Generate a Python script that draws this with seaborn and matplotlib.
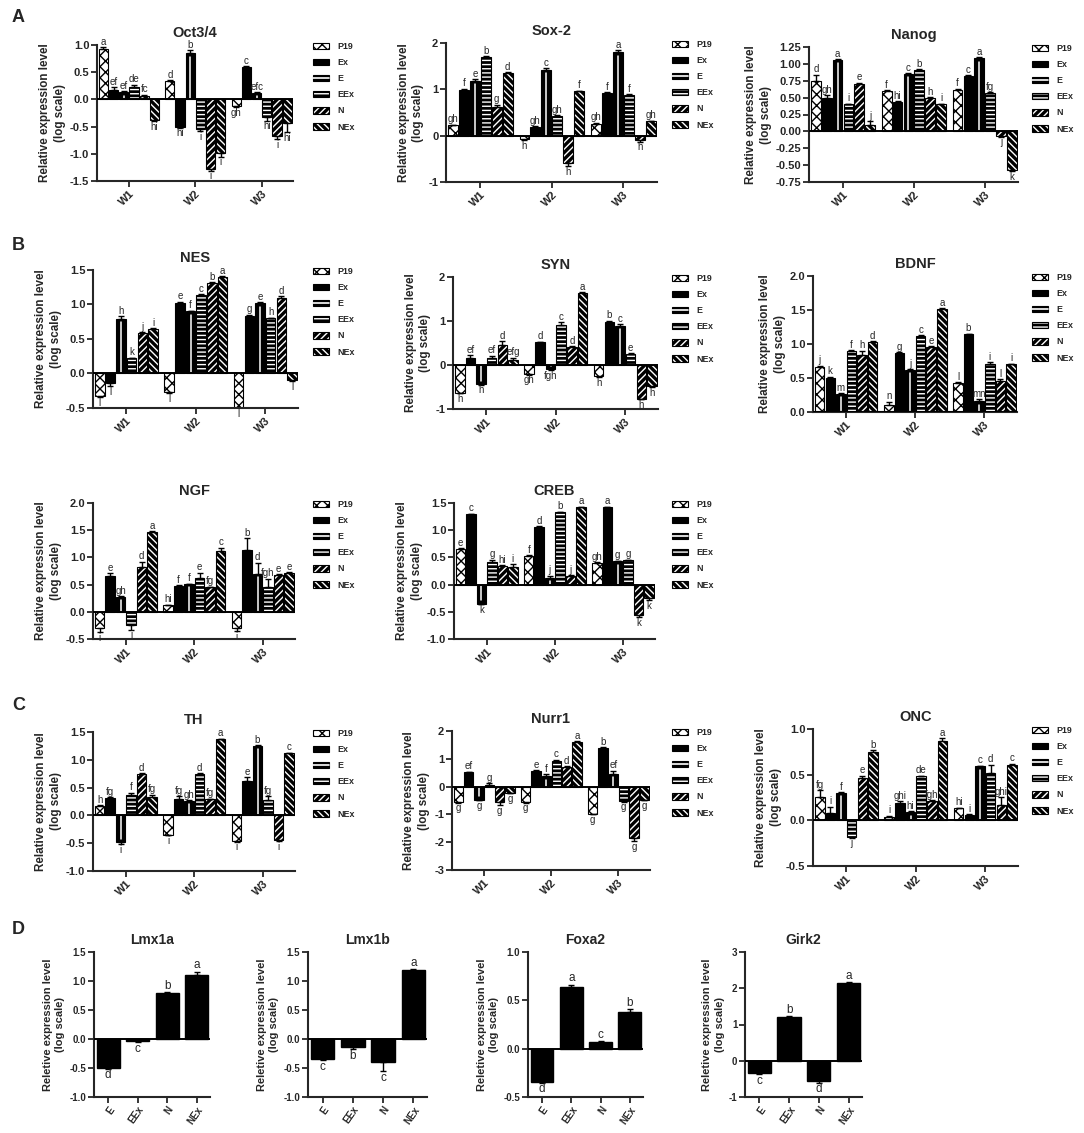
import matplotlib
matplotlib.use("Agg")
import matplotlib.pyplot as plt
import seaborn as sns
import numpy as np
import pandas as pd
from matplotlib.patches import Patch
from matplotlib.lines import Line2D
from matplotlib.colors import to_rgba
from matplotlib import font_manager

weeks = ["W1", "W2", "W3"]
groups = ["P19", "Ex", "E", "EEx", "N", "NEx"]
d_groups = ["E", "EEx", "N", "NEx"]

# rows = W1, W2, W3 ; columns = P19, Ex, E, EEx, N, NEx
oct_vals = [[0.92, 0.18, 0.13, 0.22, 0.07, -0.38],
            [0.33, -0.50, 0.85, -0.55, -1.28, -0.99],
            [-0.12, 0.60, 0.12, -0.33, -0.68, -0.44]]
oct_err = [[0.04, 0.04, 0.02, 0.05, 0.02, 0.02],
           [0.02, 0.02, 0.05, 0.03, 0.03, 0.06],
           [0.02, 0.01, 0.01, 0.06, 0.05, 0.16]]
oct_lab = [["a", "ef", "ef", "de", "fc", "hi"],
           ["d", "hi", "b", "i", "i", "i"],
           ["gh", "c", "efc", "hi", "i", "hi"]]

sox_vals = [[0.22, 0.98, 1.18, 1.70, 0.62, 1.36],
            [-0.08, 0.18, 1.42, 0.43, -0.60, 0.96],
            [0.25, 0.93, 1.80, 0.88, -0.10, 0.31]]
sox_err = [[0.02, 0.03, 0.04, 0.01, 0.05, 0.01],
           [0.01, 0.03, 0.03, 0.01, 0.06, 0.01],
           [0.03, 0.01, 0.04, 0.01, 0.03, 0.01]]
sox_lab = [["gh", "f", "e", "b", "g", "d"],
           ["h", "gh", "c", "gh", "h", "f"],
           ["gh", "f", "a", "f", "h", "gh"]]

nanog_vals = [[0.75, 0.50, 1.06, 0.40, 0.70, 0.10],
              [0.60, 0.44, 0.85, 0.91, 0.50, 0.40],
              [0.62, 0.82, 1.08, 0.57, -0.07, -0.57]]
nanog_err = [[0.09, 0.04, 0.01, 0.01, 0.02, 0.05],
             [0.01, 0.01, 0.01, 0.01, 0.01, 0.01],
             [0.01, 0.01, 0.02, 0.01, 0.01, 0.02]]
nanog_lab = [["d", "gh", "a", "i", "e", "j"],
             ["f", "hi", "c", "b", "h", "i"],
             ["f", "c", "a", "fg", "j", "k"]]

nes_vals = [[-0.33, -0.14, 0.79, 0.22, 0.59, 0.65],
            [-0.27, 1.02, 0.90, 1.14, 1.31, 1.40],
            [-0.50, 0.84, 1.02, 0.80, 1.10, -0.10]]
nes_err = [[0.01, 0.04, 0.04, 0.01, 0.01, 0.01],
           [0.01, 0.02, 0.01, 0.01, 0.01, 0.01],
           [0.00, 0.01, 0.01, 0.01, 0.02, 0.01]]
nes_lab = [["l", "l", "h", "k", "j", "i"],
           ["l", "e", "f", "c", "b", "a"],
           ["l", "g", "e", "h", "d", "l"]]

syn_vals = [[-0.63, 0.15, -0.43, 0.15, 0.45, 0.12],
            [-0.20, 0.52, -0.10, 0.91, 0.42, 1.64],
            [-0.25, 0.98, 0.89, 0.25, -0.77, -0.48]]
syn_err = [[0.01, 0.07, 0.02, 0.06, 0.09, 0.05],
           [0.02, 0.01, 0.01, 0.06, 0.01, 0.01],
           [0.02, 0.03, 0.04, 0.02, 0.01, 0.03]]
syn_lab = [["h", "ef", "h", "ef", "d", "efg"],
           ["gh", "d", "fgh", "c", "d", "a"],
           ["h", "b", "c", "e", "h", "h"]]

bdnf_vals = [[0.66, 0.50, 0.27, 0.90, 0.84, 1.03],
             [0.10, 0.87, 0.62, 1.12, 0.96, 1.52],
             [0.43, 1.14, 0.16, 0.71, 0.45, 0.70]]
bdnf_err = [[0.02, 0.02, 0.01, 0.01, 0.06, 0.01],
            [0.05, 0.01, 0.01, 0.01, 0.01, 0.01],
            [0.01, 0.01, 0.03, 0.02, 0.03, 0.01]]
bdnf_lab = [["j", "k", "m", "f", "h", "d"],
            ["n", "g", "j", "c", "e", "a"],
            ["l", "b", "mn", "i", "l", "i"]]

ngf_vals = [[-0.30, 0.66, 0.28, -0.25, 0.83, 1.47],
            [0.12, 0.48, 0.51, 0.63, 0.45, 1.12],
            [-0.30, 1.14, 0.70, 0.45, 0.67, 0.72]]
ngf_err = [[0.08, 0.05, 0.01, 0.08, 0.09, 0.01],
           [0.01, 0.01, 0.01, 0.09, 0.01, 0.06],
           [0.05, 0.21, 0.20, 0.16, 0.02, 0.01]]
ngf_lab = [["i", "e", "gh", "i", "d", "a"],
           ["hi", "f", "f", "e", "fg", "c"],
           ["i", "b", "d", "fgh", "e", "e"]]

creb_vals = [[0.66, 1.29, -0.35, 0.41, 0.35, 0.32],
             [0.52, 1.06, 0.12, 1.33, 0.16, 1.42],
             [0.40, 1.42, 0.43, 0.45, -0.55, -0.25]]
creb_err = [[0.01, 0.01, 0.01, 0.05, 0.01, 0.05],
            [0.02, 0.01, 0.04, 0.01, 0.01, 0.01],
            [0.01, 0.01, 0.01, 0.01, 0.05, 0.03]]
creb_lab = [["e", "c", "k", "g", "hi", "i"],
            ["f", "d", "j", "b", "j", "a"],
            ["gh", "a", "g", "g", "k", "k"]]

th_vals = [[0.17, 0.32, -0.48, 0.36, 0.75, 0.33],
           [-0.35, 0.30, 0.26, 0.75, 0.29, 1.37],
           [-0.46, 0.62, 1.25, 0.28, -0.45, 1.12]]
th_err = [[0.01, 0.01, 0.04, 0.05, 0.01, 0.04],
          [0.01, 0.04, 0.01, 0.01, 0.01, 0.01],
          [0.01, 0.07, 0.01, 0.07, 0.01, 0.01]]
th_lab = [["h", "fg", "i", "f", "d", "fg"],
          ["i", "fg", "gh", "d", "fg", "a"],
          ["i", "e", "b", "fg", "i", "c"]]

nurr_vals = [[-0.57, 0.53, -0.48, 0.05, -0.55, -0.22],
             [-0.57, 0.57, 0.38, 0.92, 0.72, 1.60],
             [-0.98, 1.40, 0.47, -0.53, -1.85, -0.48]]
nurr_err = [[0.01, 0.01, 0.01, 0.07, 0.12, 0.01],
            [0.01, 0.01, 0.06, 0.05, 0.01, 0.03],
            [0.01, 0.01, 0.10, 0.01, 0.10, 0.01]]
nurr_lab = [["g", "ef", "g", "g", "g", "g"],
            ["g", "e", "f", "c", "d", "a"],
            ["g", "b", "ef", "g", "g", "g"]]

onc_vals = [[0.25, 0.08, 0.30, -0.18, 0.46, 0.75],
            [0.04, 0.19, 0.09, 0.48, 0.21, 0.87],
            [0.13, 0.06, 0.59, 0.52, 0.17, 0.61]]
onc_err = [[0.08, 0.07, 0.01, 0.01, 0.03, 0.02],
           [0.01, 0.02, 0.01, 0.01, 0.01, 0.03],
           [0.01, 0.01, 0.01, 0.09, 0.08, 0.01]]
onc_lab = [["fg", "i", "f", "j", "e", "b"],
           ["i", "ghi", "hi", "de", "fgh", "a"],
           ["hi", "i", "c", "d", "ghi", "c"]]

lmx1a_vals = [-0.50, -0.03, 0.80, 1.10]
lmx1a_err = [0.01, 0.03, 0.01, 0.06]
lmx1a_lab = ["d", "c", "b", "a"]
lmx1b_vals = [-0.35, -0.13, -0.40, 1.19]
lmx1b_err = [0.01, 0.04, 0.15, 0.01]
lmx1b_lab = ["c", "b", "c", "a"]
foxa2_vals = [-0.34, 0.64, 0.07, 0.38]
foxa2_err = [0.01, 0.02, 0.01, 0.03]
foxa2_lab = ["d", "a", "c", "b"]
girk2_vals = [-0.35, 1.20, -0.55, 2.15]
girk2_err = [0.02, 0.03, 0.05, 0.01]
girk2_lab = ["c", "b", "d", "a"]

sns.set_style("ticks")
plt.rcParams["font.family"] = ["Liberation Sans", "DejaVu Sans"]
plt.rcParams["hatch.linewidth"] = 1.0
names = {f.name for f in font_manager.fontManager.ttflist}
narrow = "Liberation Sans Narrow" if "Liberation Sans Narrow" in names else "Liberation Sans"

bar_face = {"P19": "white", "Ex": "black", "E": "black", "EEx": "black", "N": "black", "NEx": "black"}
bar_hatch = {"P19": "xxx", "Ex": "", "E": "", "EEx": "----", "N": "/////", "NEx": "\\\\\\\\\\"}
hatch_col = {"P19": "black", "Ex": "black", "E": "white", "EEx": "white", "N": "white", "NEx": "white"}

W, H = 1084, 1133
fig = plt.figure(figsize=(W / 100, H / 100), dpi=100)


def rect(l, r, t, b):
    return [l / W, 1 - b / H, (r - l) / W, (b - t) / H]


def style_bar(bar, g):
    bar.set_facecolor(bar_face[g])
    bar.set_edgecolor("black")
    bar.set_linewidth(0.8)
    if bar_hatch[g]:
        bar.set_hatch(bar_hatch[g])
        bar._hatch_color = to_rgba(hatch_col[g])


def legend_handles():
    hs = []
    for g in groups:
        p = Patch(facecolor=bar_face[g], edgecolor="black", linewidth=0.8,
                  hatch=bar_hatch[g] or None)
        p._hatch_color = to_rgba(hatch_col[g])
        if g == "E":
            hs.append((p, Line2D([], [], color="white", lw=1.2)))
        else:
            hs.append(p)
    return hs


def finish_axes(ax, title, lo, hi, step, fmt, tick_font, title_font, ylab, ylab_size):
    ticks = np.round(np.arange(lo, hi + step / 2, step), 2) + 0.0
    ax.set_ylim(lo, hi)
    ax.set_yticks(ticks)
    ax.set_yticklabels([fmt.format(t) for t in ticks], fontsize=tick_font["size"],
                       fontweight="bold", family=tick_font["family"])
    for s in ["top", "right"]:
        ax.spines[s].set_visible(False)
    for s in ["left", "bottom"]:
        ax.spines[s].set_linewidth(1.5)
    ax.tick_params(direction="out", length=4, width=1.3, pad=1.5)
    ax.axhline(0, color="black", lw=1.4, zorder=3)
    ax.set_title(title, fontsize=title_font["size"], fontweight="bold",
                 family=title_font["family"], pad=6)
    ax.set_xlabel("")
    ax.set_ylabel(ylab, fontsize=ylab_size, fontweight="bold", linespacing=1.3, labelpad=3,
                  family=tick_font["family"])


def annotate_bar(ax, bar, v, e, lab, lab_size, family="Liberation Sans"):
    x = bar.get_x() + bar.get_width() / 2
    lo, hi = ([0], [e]) if v >= 0 else ([e], [0])
    if e > 0:
        ax.errorbar([x], [v], yerr=[lo, hi], fmt="none", ecolor="black",
                    elinewidth=1, capsize=2, capthick=1, zorder=3)
    end = v + e if v >= 0 else v - e
    ax.annotate(lab, (x, end), xytext=(0, 0.3 if v >= 0 else -0.5), textcoords="offset points",
                ha="center", va="bottom" if v >= 0 else "top", fontsize=lab_size,
                family=family, annotation_clip=False)


def week_panel(box, title, vals, errs, labs, lo, hi, step, fmt, legend_x):
    ax = fig.add_axes(rect(*box))
    df = pd.DataFrame({
        "week": np.repeat(weeks, len(groups)),
        "group": groups * len(weeks),
        "value": np.ravel(vals),
    })
    sns.barplot(data=df, x="week", y="value", hue="group", order=weeks, hue_order=groups,
                palette=["black"] * len(groups), width=0.92, gap=0.1, errorbar=None,
                legend=False, ax=ax)
    finish_axes(ax, title, lo, hi, step, fmt, {"size": 8, "family": "Liberation Sans"},
                {"size": 10.5, "family": "Liberation Sans"},
                "Relative expression level\n(log scale)", 8.4)
    margin = 0.025 * (hi - lo)
    bar_sets = list(ax.containers)
    for gi, cont in enumerate(bar_sets):
        g = groups[gi]
        for wi, bar in enumerate(cont.patches):
            style_bar(bar, g)
            v = vals[wi][gi]
            if g == "E":
                x = bar.get_x() + bar.get_width() / 2
                ax.plot([x, x], [0, v - np.sign(v) * margin], color="white", lw=1.1, zorder=2)
            annotate_bar(ax, bar, v, errs[wi][gi], labs[wi][gi], 7)
    ax.set_xlim(-0.48, 2.47)
    ax.set_xticks(range(len(weeks)))
    ax.set_xticklabels(weeks, rotation=45, ha="right", rotation_mode="anchor",
                       fontsize=8, fontweight="bold")
    top = box[2]
    ax.legend(legend_handles(), groups, loc="upper left",
              bbox_to_anchor=(legend_x / W, 1 - (top - 3) / H), bbox_transform=fig.transFigure,
              frameon=False, borderaxespad=0, borderpad=0,
              prop={"weight": "bold", "size": 6.4}, handlelength=1.8, handleheight=0.75,
              handletextpad=0.9, labelspacing=0.8)
    return ax


def d_panel(box, title, vals, errs, labs, lo, hi, step, fmt):
    ax = fig.add_axes(rect(*box))
    df = pd.DataFrame({"group": d_groups, "value": vals})
    sns.barplot(data=df, x="group", y="value", order=d_groups, color="black",
                width=0.78, errorbar=None, ax=ax)
    finish_axes(ax, title, lo, hi, step, fmt, {"size": 7, "family": narrow},
                {"size": 10, "family": narrow},
                "Reletive expression level\n(log scale)", 8)
    ax.title.set_position((0.5, 1.0))
    bars = list(ax.containers[0].patches)
    for bar, v, e, lab in zip(bars, vals, errs, labs):
        bar.set_facecolor("black")
        bar.set_edgecolor("black")
        annotate_bar(ax, bar, v, e, lab, 8.5, narrow)
    ax.set_xlim(-0.48, 3.45)
    ax.set_xticks(range(len(d_groups)))
    ax.set_xticklabels(d_groups, rotation=55, ha="right", rotation_mode="anchor",
                       fontsize=7, fontweight="bold", family=narrow)
    return ax


week_panel((97, 293, 45, 181), "Oct3/4", oct_vals, oct_err, oct_lab, -1.5, 1.0, 0.5, "{:.1f}", 313)
week_panel((446, 657, 43, 182), "Sox-2", sox_vals, sox_err, sox_lab, -1, 2, 1, "{:.0f}", 672)
week_panel((809, 1018, 47, 182), "Nanog", nanog_vals, nanog_err, nanog_lab, -0.75, 1.25, 0.25, "{:.2f}", 1032)
week_panel((93, 298, 270, 408), "NES", nes_vals, nes_err, nes_lab, -0.5, 1.5, 0.5, "{:.1f}", 313)
week_panel((453, 658, 277, 409), "SYN", syn_vals, syn_err, syn_lab, -1, 2, 1, "{:.0f}", 672)
week_panel((813, 1017, 276, 412), "BDNF", bdnf_vals, bdnf_err, bdnf_lab, 0, 2.0, 0.5, "{:.1f}", 1032)
week_panel((93, 295, 503, 639), "NGF", ngf_vals, ngf_err, ngf_lab, -0.5, 2.0, 0.5, "{:.1f}", 313)
week_panel((454, 655, 503, 639), "CREB", creb_vals, creb_err, creb_lab, -1.0, 1.5, 0.5, "{:.1f}", 672)
week_panel((93, 295, 732, 871), "TH", th_vals, th_err, th_lab, -1.0, 1.5, 0.5, "{:.1f}", 313)
week_panel((452, 650, 731, 870), "Nurr1", nurr_vals, nurr_err, nurr_lab, -3, 2, 1, "{:.0f}", 672)
week_panel((813, 1018, 729, 866), "ONC", onc_vals, onc_err, onc_lab, -0.5, 1.0, 0.5, "{:.1f}", 1032)

d_panel((94, 210, 952, 1097), "Lmx1a", lmx1a_vals, lmx1a_err, lmx1a_lab, -1.0, 1.5, 0.5, "{:.1f}")
d_panel((308, 427, 952, 1097), "Lmx1b", lmx1b_vals, lmx1b_err, lmx1b_lab, -1.0, 1.5, 0.5, "{:.1f}")
d_panel((528, 643, 952, 1097), "Foxa2", foxa2_vals, foxa2_err, foxa2_lab, -0.5, 1.0, 0.5, "{:.1f}")
d_panel((745, 862, 952, 1097), "Girk2", girk2_vals, girk2_err, girk2_lab, -1, 3, 1, "{:.0f}")

for letter, y in [("A", 18), ("B", 246), ("C", 705), ("D", 930)]:
    fig.text(12 / W, 1 - y / H, letter, fontsize=13, fontweight="bold", va="center", ha="left")

fig.savefig("out.png", dpi=100)
